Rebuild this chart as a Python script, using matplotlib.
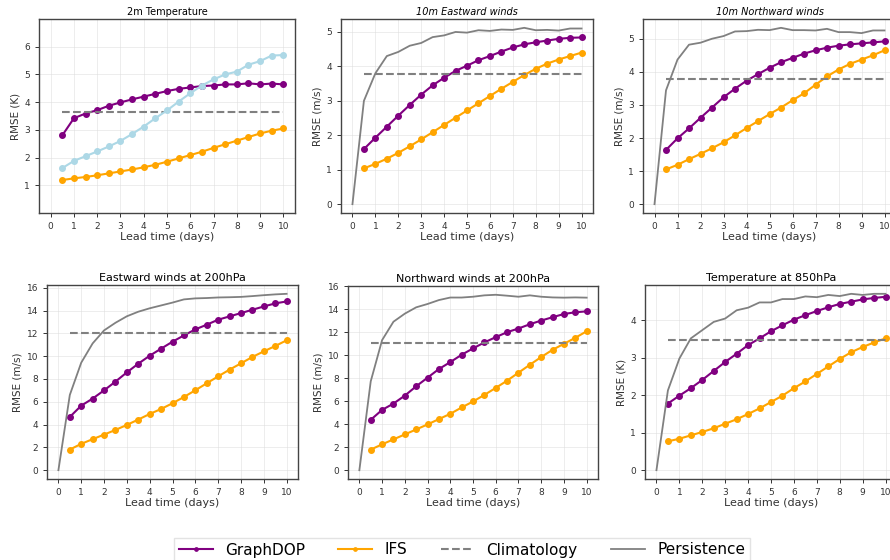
import numpy as np
import matplotlib
matplotlib.use("Agg")
import matplotlib.pyplot as plt

# lead times
lead = np.arange(0.5, 10.01, 0.5)
lead_p = np.arange(0.0, 10.01, 0.5)

titles = ["2m Temperature", "10m Eastward winds", "10m Northward winds",
          "Eastward winds at 200hPa", "Northward winds at 200hPa", "Temperature at 850hPa"]
ylabels = ["RMSE (K)", "RMSE (m/s)", "RMSE (m/s)", "RMSE (m/s)", "RMSE (m/s)", "RMSE (K)"]

# 2m temperature
t2m_graphdop = [2.8, 3.42, 3.59, 3.71, 3.87, 3.99, 4.1, 4.2, 4.3, 4.4, 4.48, 4.53, 4.58, 4.6, 4.64, 4.64, 4.68, 4.64, 4.67, 4.64]
t2m_ifs = [1.19, 1.25, 1.3, 1.36, 1.43, 1.5, 1.57, 1.65, 1.74, 1.85, 1.97, 2.09, 2.21, 2.35, 2.48, 2.61, 2.74, 2.87, 2.97, 3.05]
t2m_pers = [1.62, 1.88, 2.05, 2.22, 2.4, 2.6, 2.85, 3.12, 3.42, 3.7, 4.02, 4.32, 4.6, 4.82, 5.0, 5.1, 5.35, 5.48, 5.68, 5.7]
t2m_clim = 3.63

# 10m eastward winds
u10_graphdop = [1.6, 1.93, 2.25, 2.57, 2.88, 3.18, 3.45, 3.67, 3.87, 4.02, 4.18, 4.3, 4.43, 4.55, 4.64, 4.7, 4.75, 4.8, 4.83, 4.84]
u10_ifs = [1.04, 1.17, 1.32, 1.49, 1.68, 1.88, 2.09, 2.3, 2.51, 2.72, 2.93, 3.14, 3.35, 3.55, 3.75, 3.93, 4.08, 4.2, 4.3, 4.4]
u10_pers = [0.0, 3.0, 3.8, 4.3, 4.42, 4.6, 4.68, 4.85, 4.9, 5.0, 4.98, 5.05, 5.03, 5.07, 5.06, 5.12, 5.05, 5.06, 5.04, 5.1, 5.1]
u10_clim = 3.77

# 10m northward winds
v10_graphdop = [1.64, 1.99, 2.29, 2.61, 2.92, 3.23, 3.49, 3.73, 3.93, 4.12, 4.29, 4.42, 4.55, 4.65, 4.73, 4.79, 4.83, 4.86, 4.89, 4.92]
v10_ifs = [1.05, 1.19, 1.36, 1.52, 1.69, 1.87, 2.08, 2.3, 2.51, 2.72, 2.92, 3.14, 3.35, 3.61, 3.86, 4.07, 4.24, 4.37, 4.5, 4.65]
v10_pers = [0.0, 3.44, 4.37, 4.82, 4.88, 5.0, 5.08, 5.22, 5.23, 5.27, 5.26, 5.33, 5.26, 5.26, 5.25, 5.3, 5.2, 5.2, 5.17, 5.25, 5.25]
v10_clim = 3.79

# eastward winds 200hPa
u200_graphdop = [4.67, 5.66, 6.28, 7.0, 7.77, 8.58, 9.34, 10.04, 10.66, 11.27, 11.82, 12.35, 12.76, 13.2, 13.49, 13.78, 14.07, 14.36, 14.63, 14.8]
u200_ifs = [1.81, 2.31, 2.72, 3.12, 3.53, 3.97, 4.44, 4.93, 5.37, 5.87, 6.42, 7.01, 7.62, 8.23, 8.82, 9.37, 9.93, 10.42, 10.89, 11.39]
u200_pers = [0.0, 6.6, 9.43, 11.12, 12.26, 12.93, 13.5, 13.9, 14.2, 14.45, 14.7, 14.98, 15.07, 15.1, 15.15, 15.17, 15.2, 15.27, 15.35, 15.42, 15.47]
u200_clim = 12.0

# northward winds 200hPa
v200_graphdop = [4.38, 5.24, 5.79, 6.48, 7.29, 8.04, 8.79, 9.39, 10.03, 10.58, 11.1, 11.56, 11.99, 12.31, 12.68, 13.0, 13.29, 13.57, 13.72, 13.8]
v200_ifs = [1.79, 2.25, 2.68, 3.11, 3.54, 3.98, 4.44, 4.9, 5.45, 5.97, 6.54, 7.15, 7.78, 8.47, 9.16, 9.83, 10.46, 10.98, 11.5, 12.07]
v200_pers = [0.0, 7.72, 11.3, 12.9, 13.6, 14.15, 14.44, 14.78, 15.0, 15.0, 15.07, 15.19, 15.24, 15.16, 15.07, 15.19, 15.07, 15.01, 14.99, 15.01, 14.99]
v200_clim = 11.07

# temperature 850hPa
t850_graphdop = [1.78, 1.99, 2.19, 2.41, 2.65, 2.89, 3.11, 3.34, 3.52, 3.71, 3.87, 4.02, 4.14, 4.25, 4.35, 4.44, 4.5, 4.56, 4.6, 4.63]
t850_ifs = [0.77, 0.84, 0.93, 1.02, 1.12, 1.24, 1.36, 1.5, 1.65, 1.82, 1.99, 2.19, 2.37, 2.57, 2.77, 2.97, 3.15, 3.29, 3.41, 3.52]
t850_pers = [0.0, 2.13, 2.98, 3.52, 3.74, 3.96, 4.05, 4.27, 4.34, 4.48, 4.48, 4.57, 4.57, 4.64, 4.62, 4.68, 4.65, 4.71, 4.68, 4.71, 4.71]
t850_clim = 3.49

graphdop = [t2m_graphdop, u10_graphdop, v10_graphdop, u200_graphdop, v200_graphdop, t850_graphdop]
ifs = [t2m_ifs, u10_ifs, v10_ifs, u200_ifs, v200_ifs, t850_ifs]
pers = [t2m_pers, u10_pers, v10_pers, u200_pers, v200_pers, t850_pers]
clim = [t2m_clim, u10_clim, v10_clim, u200_clim, v200_clim, t850_clim]

W, H = 890, 560
fig = plt.figure(figsize=(W / 100, H / 100), dpi=100)

# axes boxes in pixels: left, right, top, bottom
boxes = [(39, 295, 19, 213), (341, 593, 19, 213), (643, 896, 19, 213),
         (47, 298, 285, 479), (348, 598, 286, 479), (645, 897, 285, 479)]

handles = None
for i in range(6):
    l, r, t, b = boxes[i]
    ax = fig.add_axes([l / W, (H - b) / H, (r - l) / W, (b - t) / H])
    h1, = ax.plot(lead, graphdop[i], color="purple", marker="o", markersize=4, lw=1.5, label="GraphDOP")
    h2, = ax.plot(lead, ifs[i], color="orange", marker="o", markersize=4, lw=1.5, label="IFS")
    h3, = ax.plot([lead[0], lead[-1]], [clim[i], clim[i]], color="gray", ls="--", lw=1.5, label="Climatology")
    if i == 0:
        # 2m temperature persistence drawn with markers in light blue
        ax.plot(lead, pers[i], color="lightblue", marker="o", markersize=4, lw=1.5)
        ax.set_ylim(0, 7)
        ax.set_yticks([1, 2, 3, 4, 5, 6])
    else:
        h4, = ax.plot(lead_p, pers[i], color="gray", lw=1.3, label="Persistence")
        handles = [h1, h2, h3, h4]
    ax.set_xlim(-0.5, 10.5)
    ax.set_xticks(range(0, 11))
    ax.grid(True, color="#dddddd", lw=0.6, alpha=0.6)
    ax.tick_params(labelsize=6.5, colors="#333333", length=3, width=0.7)
    for sp in ax.spines.values():
        sp.set_color("#444444")
        sp.set_linewidth(1.0)
    ax.set_xlabel("Lead time (days)", fontsize=8, color="#333333", labelpad=1)
    ax.set_ylabel(ylabels[i], fontsize=7.5, color="#333333", labelpad=3)
    if i < 3:
        ax.set_title(titles[i], fontsize=7, style="italic" if i > 0 else "normal", pad=3)
    else:
        ax.set_title(titles[i], fontsize=8, pad=3)

fig.legend(handles=handles, labels=["GraphDOP", "IFS", "Climatology", "Persistence"],
           loc="center", bbox_to_anchor=(462 / W, 1 - 550 / H), ncol=4, fontsize=11,
           frameon=True, columnspacing=2.2, handlelength=2.2, markerscale=0.6,
           edgecolor="#dddddd", fancybox=False, borderpad=0.3)

fig.savefig("out.png", dpi=100)
